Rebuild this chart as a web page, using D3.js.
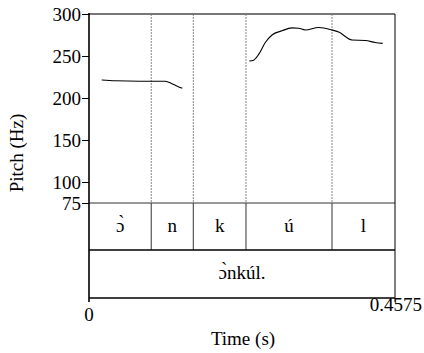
<!DOCTYPE html>
<html>
<head>
<meta charset="utf-8">
<script src="https://cdn.jsdelivr.net/npm/d3@7"></script>
<style>
  body { margin: 0; background: #fff; }
</style>
</head>
<body>
<svg id="chart" width="424" height="353"></svg>
<script>
// pitch track, two voiced stretches: [time (s), Hz]
const pitchA = [
  [0.019, 221.5], [0.039, 220.5], [0.076, 220], [0.114, 220],
  [0.124, 217], [0.132, 214], [0.1395, 211.5]
];
const pitchB = [
  [0.2397, 244], [0.2462, 245], [0.2537, 252], [0.2636, 266], [0.2736, 275],
  [0.2885, 280], [0.3035, 283.5], [0.3135, 283], [0.3234, 281], [0.3434, 284],
  [0.3633, 281], [0.3733, 278.5], [0.3932, 269], [0.4131, 268.5], [0.4281, 266],
  [0.4391, 265]
];
const boundaries = [0.0931, 0.156, 0.2347, 0.3633];
const segments = ["ɔ̀", "n", "k", "ú", "l"];
const words = ["ɔ̀nkúl."];
const pitchTicks = [75, 100, 150, 200, 250, 300];
const tMax = 0.4575;

const FS = 19;
const svg = d3.select("#chart");
const pLeft = 89, pRight = 395, pTop = 14, pitchBottom = 203, tier1 = 250, tier2 = 298;

const x = d3.scaleLinear().domain([0, tMax]).range([pLeft, pRight]);
const y = d3.scaleLinear().domain([75, 300]).range([pitchBottom, pTop]);

// pitch area boundaries (dotted)
svg.selectAll(".bdash").data(boundaries).enter().append("line")
  .attr("x1", d => x(d)).attr("x2", d => x(d))
  .attr("y1", pTop).attr("y2", pitchBottom)
  .attr("stroke", "#888").attr("stroke-width", 1)
  .attr("stroke-dasharray", "2,1");

// tier boundaries (solid)
svg.selectAll(".bsolid").data(boundaries).enter().append("line")
  .attr("x1", d => x(d)).attr("x2", d => x(d))
  .attr("y1", pitchBottom).attr("y2", tier1)
  .attr("stroke", "#555").attr("stroke-width", 1.2);

// pitch curves
const line = d3.line().x(d => x(d[0])).y(d => y(d[1])).curve(d3.curveMonotoneX);
[pitchA, pitchB].forEach(p => {
  svg.append("path").attr("d", line(p))
    .attr("fill", "none").attr("stroke", "#000").attr("stroke-width", 1.1);
});

// frame
svg.append("line").attr("x1", pLeft).attr("x2", pRight).attr("y1", pTop).attr("y2", pTop)
  .attr("stroke", "#777").attr("stroke-width", 2);
svg.append("line").attr("x1", pLeft).attr("x2", pRight).attr("y1", pitchBottom).attr("y2", pitchBottom)
  .attr("stroke", "#333").attr("stroke-width", 1);
[tier1, tier2].forEach(v => {
  svg.append("line").attr("x1", pLeft).attr("x2", pRight).attr("y1", v).attr("y2", v)
    .attr("stroke", "#000").attr("stroke-width", 1.5);
});
svg.append("line").attr("x1", pRight).attr("x2", pRight).attr("y1", pTop).attr("y2", tier2)
  .attr("stroke", "#000").attr("stroke-width", 1);

// left axis
const yAxis = svg.append("g").attr("transform", `translate(${pLeft},0)`)
  .call(d3.axisLeft(y).tickValues(pitchTicks).tickSize(7).tickPadding(1).tickFormat(d3.format("d")));
yAxis.select(".domain").remove();
yAxis.selectAll(".tick line").attr("stroke", "#000");
yAxis.selectAll(".tick text").attr("dy", "0.34em");
svg.append("line").attr("x1", pLeft).attr("x2", pLeft).attr("y1", pTop - 1).attr("y2", tier2 + 4)
  .attr("stroke", "#000").attr("stroke-width", 1.6);
svg.append("line").attr("x1", pRight).attr("x2", pRight).attr("y1", tier2).attr("y2", tier2 + 4)
  .attr("stroke", "#000").attr("stroke-width", 1);

// segment labels
const edges = [0, ...boundaries, tMax];
svg.selectAll(".seg").data(segments).enter().append("text")
  .attr("x", (d, i) => x((edges[i] + edges[i + 1]) / 2))
  .attr("y", (pitchBottom + tier1) / 2 + 5)
  .attr("text-anchor", "middle")
  .text(d => d);

svg.selectAll(".word").data(words).enter().append("text")
  .attr("x", x(tMax / 2)).attr("y", (tier1 + tier2) / 2 + 5)
  .attr("text-anchor", "middle")
  .text(d => d);

// time labels
svg.append("text").attr("x", x(0)).attr("y", 321).attr("text-anchor", "middle").text("0");
svg.append("text").attr("x", 422).attr("y", 311).attr("text-anchor", "end").text(String(tMax));
svg.append("text").attr("x", 243).attr("y", 345).attr("text-anchor", "middle").text("Time (s)");
svg.append("text").attr("transform", "translate(23,153) rotate(-90)")
  .attr("text-anchor", "middle").text("Pitch (Hz)");

// same serif face on every label
svg.selectAll("text")
  .style("font-family", '"Liberation Serif"')
  .style("font-size", FS + "px")
  .attr("fill", "#000");
</script>
</body>
</html>
